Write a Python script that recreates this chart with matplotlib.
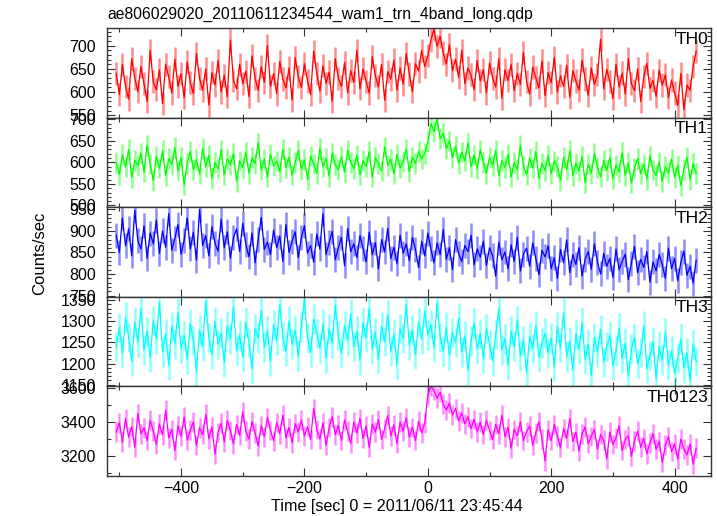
import numpy as np
import matplotlib
matplotlib.use("Agg")
import matplotlib.pyplot as plt
from matplotlib.ticker import MultipleLocator

plt.rcParams['font.family'] = ['Liberation Sans', 'DejaVu Sans']

title = "ae806029020_20110611234544_wam1_trn_4band_long.qdp"
xlabel = "Time [sec] 0 = 2011/06/11 23:45:44"
ylabel = "Counts/sec"

t_start = -505
t_step = 5

band_names = ["TH0", "TH1", "TH2", "TH3", "TH0123"]
band_colors = ["#ff0000", "#00ff00", "#0000ff", "#00ffff", "#ff00ff"]
band_errors = [25, 24, 29, 35, 58]

th0 = [640, 595, 660, 612, 585, 672, 630, 601, 655, 618, 580, 690, 622, 605, 648, 575, 660, 633, 598, 671,
       612, 640, 588, 665, 620, 597, 683, 629, 604, 650, 572, 642, 615, 668, 600, 636, 590, 712, 625, 607,
       660, 618, 645, 590, 678, 630, 604, 655, 621, 700, 612, 640, 596, 666, 628, 609, 652, 583, 674, 633,
       610, 661, 624, 595, 688, 640, 602, 657, 619, 643, 580, 672, 630, 612, 664, 598, 646, 621, 690, 607,
       650, 623, 598, 676, 635, 611, 660, 582, 644, 628, 669, 604, 652, 617, 683, 639, 601, 661, 645, 690,
       655, 678, 712, 735, 698, 720, 684, 660, 702, 646, 671, 631, 690, 618, 652, 637, 605, 668, 624, 648,
       598, 663, 630, 611, 672, 587, 648, 625, 660, 603, 640, 617, 685, 622, 596, 654, 631, 609, 667, 592,
       642, 620, 675, 600, 635, 612, 658, 589, 646, 624, 604, 669, 628, 593, 652, 616, 638, 714, 607, 649,
       623, 586, 660, 611, 641, 596, 672, 618, 603, 650, 580, 633, 662, 608, 625, 591, 647, 615, 637, 588,
       626, 598, 571, 640, 562, 615, 604, 655, 688]

th1 = [600, 572, 618, 589, 630, 565, 605, 593, 622, 578, 640, 596, 558, 613, 587, 627, 570, 609, 595, 635,
       580, 612, 548, 598, 625, 584, 606, 573, 633, 590, 616, 563, 600, 585, 629, 571, 608, 594, 620, 556,
       603, 588, 624, 575, 611, 597, 645, 582, 608, 566, 619, 592, 603, 579, 631, 588, 612, 571, 600, 627,
       584, 606, 560, 615, 596, 575, 633, 590, 609, 568, 622, 595, 583, 613, 577, 628, 600, 586, 617, 571,
       604, 590, 625, 566, 611, 598, 580, 636, 593, 607, 574, 619, 587, 602, 631, 579, 612, 597, 626, 608,
       621, 648, 690, 672, 700, 655, 668, 632, 650, 611, 637, 598, 624, 603, 645, 590, 617, 586, 629, 600,
       575, 612, 593, 628, 570, 604, 588, 619, 566, 600, 583, 640, 592, 571, 610, 587, 625, 562, 598, 581,
       616, 574, 603, 590, 558, 612, 583, 627, 569, 598, 580, 614, 553, 596, 575, 620, 588, 567, 605, 581,
       611, 562, 594, 578, 623, 570, 599, 552, 587, 609, 574, 596, 561, 615, 582, 570, 601, 556, 590, 576,
       608, 565, 593, 546, 584, 612, 560, 597, 575]

th2 = [890, 850, 930, 865, 905, 842, 948, 877, 858, 912, 836, 895, 870, 925, 848, 900, 862, 940, 855, 883,
       915, 846, 878, 930, 858, 897, 832, 950, 866, 889, 842, 910, 871, 853, 927, 861, 898, 837, 884, 905,
       852, 918, 869, 840, 895, 826, 880, 931, 857, 874, 845, 902, 861, 888, 829, 915, 850, 876, 898, 838,
       884, 912, 848, 866, 827, 893, 858, 940, 845, 872, 899, 833, 861, 885, 819, 906, 852, 870, 838, 889,
       860, 828, 897, 845, 873, 812, 880, 851, 906, 836, 862, 824, 890, 848, 870, 831, 885, 857, 815, 876,
       842, 895, 858, 826, 872, 845, 903, 834, 861, 810, 880, 847, 829, 866, 852, 890, 821, 858, 839, 876,
       820, 861, 842, 795, 874, 833, 851, 812, 868, 829, 885, 807, 846, 860, 818, 872, 836, 798, 855, 840,
       865, 812, 838, 790, 857, 826, 879, 803, 845, 822, 861, 795, 834, 852, 811, 870, 827, 800, 848, 818,
       836, 792, 858, 810, 829, 846, 787, 825, 864, 803, 834, 815, 852, 781, 828, 807, 845, 822, 790, 860,
       812, 836, 784, 826, 853, 797, 818, 779, 832]

th3 = [1240, 1285, 1225, 1310, 1262, 1205, 1298, 1250, 1330, 1232, 1276, 1214, 1302, 1258, 1345, 1228, 1270, 1196, 1288, 1247,
       1320, 1236, 1266, 1210, 1295, 1255, 1182, 1280, 1240, 1348, 1262, 1221, 1300, 1245, 1272, 1203, 1289, 1258, 1334, 1230,
       1268, 1215, 1297, 1250, 1188, 1283, 1261, 1325, 1239, 1278, 1206, 1292, 1254, 1340, 1264, 1230, 1301, 1246, 1279, 1218,
       1286, 1352, 1260, 1227, 1305, 1271, 1236, 1294, 1213, 1282, 1249, 1338, 1266, 1225, 1290, 1256, 1318, 1240, 1277, 1208,
       1296, 1262, 1330, 1235, 1274, 1210, 1288, 1252, 1315, 1229, 1270, 1198, 1283, 1260, 1340, 1244, 1279, 1221, 1300, 1257,
       1325, 1268, 1292, 1238, 1345, 1262, 1230, 1286, 1219, 1274, 1250, 1308, 1228, 1266, 1185, 1253, 1296, 1234, 1271, 1212,
       1283, 1245, 1206, 1269, 1330, 1232, 1258, 1196, 1277, 1240, 1302, 1218, 1255, 1178, 1264, 1236, 1290, 1215, 1248, 1272,
       1225, 1260, 1193, 1287, 1238, 1320, 1216, 1252, 1185, 1270, 1233, 1296, 1210, 1245, 1172, 1262, 1228, 1281, 1203, 1240,
       1266, 1195, 1230, 1285, 1212, 1248, 1170, 1235, 1262, 1200, 1226, 1290, 1188, 1219, 1252, 1165, 1240, 1208, 1274, 1196,
       1230, 1176, 1214, 1258, 1190, 1225, 1160, 1246, 1205]

th0123 = [3340, 3395, 3280, 3420, 3310, 3372, 3250, 3450, 3330, 3365, 3290, 3410, 3345, 3268, 3388, 3322, 3470, 3305, 3356, 3230,
          3378, 3315, 3430, 3292, 3352, 3400, 3260, 3365, 3325, 3445, 3300, 3370, 3210, 3338, 3392, 3282, 3410, 3348, 3270, 3385,
          3320, 3460, 3345, 3298, 3402, 3336, 3258, 3378, 3312, 3425, 3350, 3288, 3396, 3330, 3440, 3305, 3368, 3276, 3390, 3342,
          3410, 3318, 3372, 3296, 3480, 3354, 3300, 3395, 3262, 3366, 3430, 3324, 3380, 3290, 3412, 3346, 3272, 3398, 3335, 3420,
          3302, 3375, 3250, 3388, 3340, 3415, 3296, 3360, 3438, 3318, 3382, 3272, 3398, 3345, 3425, 3310, 3368, 3290, 3404, 3336,
          3392, 3560, 3610, 3585, 3540, 3575, 3505, 3470, 3512, 3440, 3478, 3405, 3452, 3388, 3430, 3360, 3415, 3342, 3398, 3325,
          3410, 3350, 3296, 3385, 3330, 3440, 3312, 3368, 3245, 3356, 3318, 3400, 3290, 3342, 3375, 3262, 3336, 3402, 3300, 3170,
          3352, 3290, 3384, 3316, 3248, 3360, 3302, 3420, 3285, 3338, 3226, 3330, 3370, 3272, 3314, 3356, 3240, 3325, 3292, 3180,
          3340, 3266, 3305, 3378, 3230, 3296, 3318, 3196, 3288, 3345, 3250, 3302, 3210, 3276, 3330, 3238, 3284, 3160, 3262, 3312,
          3225, 3270, 3180, 3298, 3240, 3205, 3268, 3150, 3245]

series = [th0, th1, th2, th3, th0123]
ylims = [(545, 738), (496, 704), (747, 955), (1146, 1358), (3080, 3610)]
ymajor = [50, 50, 50, 50, 200]
yminor = [10, 10, 10, 10, 100]

fig = plt.figure(figsize=(7.17, 5.16), dpi=100)
left, right = 107 / 717, 711 / 717
top, bottom = 1 - 28 / 516, 1 - 476 / 516
h = (top - bottom) / 5

for k in range(5):
    vals = np.array(series[k], dtype=float)
    t = t_start + t_step * np.arange(len(vals))
    ax = fig.add_axes([left, top - (k + 1) * h, right - left, h])
    col = band_colors[k]
    err = band_errors[k]
    ax.vlines(t, vals - err, vals + err, colors=col, alpha=0.45, linewidth=1.8)
    ax.plot(t, vals, color=col, linewidth=0.9)
    ax.set_xlim(-520, 459)
    ax.set_ylim(*ylims[k])
    ax.xaxis.set_major_locator(MultipleLocator(200))
    ax.xaxis.set_minor_locator(MultipleLocator(100))
    ax.yaxis.set_major_locator(MultipleLocator(ymajor[k]))
    ax.yaxis.set_minor_locator(MultipleLocator(yminor[k]))
    ax.tick_params(which='both', direction='in', top=True, right=True, labelsize=11.5,
                   width=0.8, colors='#333333', labelcolor='black')
    ax.tick_params(axis='y', which='major', pad=8)
    ax.tick_params(which='major', length=6)
    ax.tick_params(which='minor', length=3)
    for s in ax.spines.values():
        s.set_linewidth(1.0)
        s.set_color('#333333')
    if k < 4:
        ax.tick_params(labelbottom=False)
    ax.text(0.995, 0.96, band_names[k], transform=ax.transAxes, ha='right', va='top', fontsize=12.5)

fig.text(left, 1 - 14 / 516, title, ha='left', va='center', fontsize=11.3)
fig.text(397 / 717, 1 - 507 / 516, xlabel, ha='center', va='center', fontsize=11.6)
fig.text(40 / 717, 1 - 253 / 516, ylabel, rotation=90, ha='center', va='center', fontsize=12)

fig.savefig("out.png", dpi=100)
